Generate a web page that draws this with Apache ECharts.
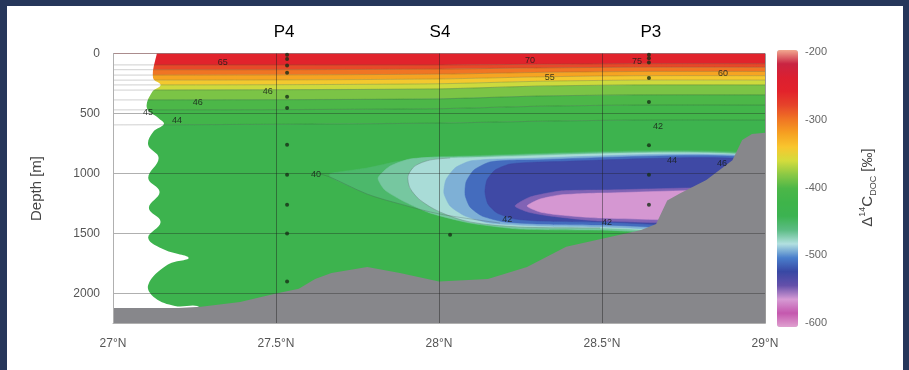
<!DOCTYPE html>
<html><head><meta charset="utf-8">
<script src="https://cdn.jsdelivr.net/npm/echarts@6/dist/echarts.min.js"></script>
<style>
html,body{margin:0;padding:0;background:#26365a;width:909px;height:370px;overflow:hidden}
#c{position:absolute;left:7px;top:6px;width:896px;height:364px;background:#fff}
</style></head><body><div id="c"></div>
<script>
// ---------------- data ----------------
const xTickLabels = ['27°N', '27.5°N', '28°N', '28.5°N', '29°N'];
const depthTicks = [0, 500, 1000, 1500, 2000];
const colorbarTicks = [-600, -500, -400, -300, -200];
// colour scale, -600 .. -200 every 20 ‰
const colormap = ['#e0a0d0','#c458ae','#d69ad4','#6450aa','#3848a4','#4a7fcc','#b2e0e0','#5cbc84','#3cb351','#3eb44a',
  '#4cb748','#8ac845','#d4dc3c','#f8c62e','#f6a021','#f07524','#e6442a','#e2232b','#dc1f30','#c92442','#f2a890'];

// isolines of the upper layers: depth (m) at these latitudes
const isoLats = [27.0, 27.5, 28.0, 28.3, 28.6, 29.0];
const isoline1 = [95, 95, 95, 90, 85, 85];
const isoline2 = [135, 135, 130, 120, 115, 115];
const isoline3 = [180, 178, 172, 158, 150, 150];
const isoline4 = [222, 220, 212, 195, 185, 185];
const isoline5 = [262, 260, 252, 232, 222, 222];
const isoline6 = [305, 302, 295, 272, 262, 262];
const isoline7 = [387, 385, 378, 355, 345, 345];
const isoline8 = [470, 468, 460, 440, 430, 430];
const isoline9 = [595, 590, 580, 565, 555, 555];
const layerValues = [-258, -282, -300, -322, -342, -362, -385, -400, -415, -432];

// low-Δ14C lens: nested contours [lat, depth]
const lensA = [[27.666,1000],[27.779,954],[27.88,896],[28.003,858],[29.015,855],[29.015,1488],[28.494,1471],[28.187,1413],[28.003,1338],[27.88,1254],[27.779,1171],[27.666,1030]];
const lensB = [[28.003,863],[27.911,879],[27.85,938],[27.813,1038],[27.834,1138],[27.896,1238],[27.972,1329],[28.095,1413],[28.248,1463],[28.494,1471],[29.015,1471],[29.015,863]];
const lensC = [[28.034,871],[27.972,888],[27.926,938],[27.905,1021],[27.911,1121],[27.942,1221],[28.003,1321],[28.095,1404],[28.248,1446],[28.494,1454],[29.015,1454],[29.015,871]];
const lensD = [[28.187,879],[28.095,896],[28.049,954],[28.021,1054],[28.015,1163],[28.034,1271],[28.08,1354],[28.156,1413],[28.31,1438],[28.494,1446],[29.015,1446],[29.015,879]];
const lensE = [[28.248,888],[28.156,904],[28.107,971],[28.083,1071],[28.08,1179],[28.095,1279],[28.132,1354],[28.202,1404],[28.31,1421],[28.494,1429],[29.015,1429],[29.015,888]];
const lensF = [[28.31,904],[28.218,921],[28.172,971],[28.147,1054],[28.141,1154],[28.15,1254],[28.178,1329],[28.233,1379],[28.31,1396],[28.494,1404],[29.015,1413],[29.015,904]];
const lensG = [[28.233,1271],[28.279,1196],[28.371,1146],[28.494,1138],[29.015,1138],[29.015,1396],[28.494,1396],[28.34,1354],[28.273,1321]];
const lensH = [[28.27,1271],[28.31,1213],[28.371,1179],[28.494,1163],[29.015,1154],[29.015,1379],[28.494,1371],[28.371,1346],[28.31,1321]];
const lensValues = [-450, -466, -478, -490, -507, -523, -545, -561];

// western edge of the data coverage [lat, depth]
const coverageEdge = [[27.123,-100],[27.123,204],[27.146,262],[27.12,320],[27.104,455],[27.14,540],[27.156,588],[27.123,654],
  [27.108,762],[27.14,870],[27.108,1038],[27.143,1154],[27.11,1288],[27.146,1404],[27.108,1538],[27.16,1638],[27.232,1704],
  [27.166,1763],[27.108,1929],[27.129,2038],[27.19,2104],[27.27,2125],[27.3,2400]];

// seafloor
const bathyLat = [27.0, 27.2, 27.27, 27.39, 27.5, 27.57, 27.62, 27.67, 27.78, 27.88, 28.0, 28.15, 28.27, 28.39, 28.49, 28.62, 28.666, 28.70, 28.74, 28.82, 28.90, 28.93, 28.96, 29.0];
const bathyDepth = [2120, 2120, 2110, 2070, 2000, 1960, 1880, 1830, 1780, 1830, 1900, 1880, 1780, 1610, 1550, 1470, 1420, 1225, 1165, 1055, 890, 720, 670, 660];

// stations and samples
const stationNames = ['P4', 'S4', 'P3'];
const stationNameLat = [27.525, 28.003, 28.65];
const p4Lat = 27.534, p4Depths = [10, 45, 100, 160, 360, 455, 760, 1010, 1260, 1500, 1900];
const s4Lat = 28.034, s4Depths = [1510];
const p3Lat = 28.644, p3Depths = [10, 40, 75, 205, 405, 765, 1010, 1260];

// contour labels
const contourLabelText = ['65','46','46','45','44','40','42','70','55','75','60','42','44','46','42'];
const contourLabelLat = [27.337, 27.475, 27.26, 27.107, 27.196, 27.623, 28.209, 28.279, 28.34, 28.607, 28.871, 28.672, 28.715, 28.868, 28.515];
const contourLabelDepth = [71, 320, 405, 490, 555, 1005, 1385, 62, 198, 70, 163, 605, 890, 915, 1410];

// ---------------- build ----------------
const isolines = [isoline1, isoline2, isoline3, isoline4, isoline5, isoline6, isoline7, isoline8, isoline9];
const bounds = [isoLats.map(() => -50)].concat(isolines, [isoLats.map(() => 2400)]);
const fieldPolys = [], fieldSmooth = [], fieldData = [];
for (let i = 0; i < layerValues.length; i++) {
  const up = isoLats.map((la, k) => [la, bounds[i][k]]);
  const lo = isoLats.map((la, k) => [la, bounds[i + 1][k]]).reverse();
  fieldPolys.push(up.concat(lo)); fieldSmooth.push(0);
  fieldData.push([fieldPolys.length - 1, layerValues[i]]);
}
[lensA, lensB, lensC, lensD, lensE, lensF, lensG, lensH].forEach((p, i) => {
  fieldPolys.push(p); fieldSmooth.push(0.2);
  fieldData.push([fieldPolys.length - 1, lensValues[i]]);
});
const maskPoly = [[26.8, -100]].concat(coverageEdge, [[26.8, 2400]]);
const floorPoly = [[26.8, bathyDepth[0]]].concat(bathyLat.map((la, i) => [la, bathyDepth[i]]), [[29.2, bathyDepth[bathyDepth.length - 1]], [29.2, 2400], [26.8, 2400]]);
const outlineLines = isolines.map(d => [[26.95, d[0]]].concat(isoLats.map((la, k) => [la, d[k]])));
const lensOutline = [[27.635, 1004]].concat(lensA.slice(7).reverse());
outlineLines.push(lensOutline, lensC.slice(0, 10));
const samples = [];
p4Depths.forEach(d => samples.push([p4Lat, d]));
s4Depths.forEach(d => samples.push([s4Lat, d]));
p3Depths.forEach(d => samples.push([p3Lat, d]));
const FONT = "'Liberation Sans', Arial, sans-serif";

const chart = echarts.init(document.getElementById('c'), null, {renderer: 'canvas'});
const option = {
  animation: false,
  backgroundColor: '#ffffff',
  grid: [{left: 106, top: 47.5, width: 652, height: 270}, {left: 770, top: 46, width: 21, height: 271}],
  xAxis: [
    {gridIndex: 0, type: 'value', min: 27, max: 29, interval: 0.5, z: 6,
     axisLine: {show: true, onZero: false, lineStyle: {color: '#b0b0b0'}}, axisTick: {show: false},
     axisLabel: {color: '#555', fontSize: 12, fontFamily: FONT, margin: 14, formatter: v => xTickLabels[Math.round((v - 27) / 0.5)]},
     splitLine: {show: true, lineStyle: {color: 'rgba(30,30,30,0.45)', width: 1}}},
    {gridIndex: 1, type: 'value', min: 0, max: 1, show: false}
  ],
  yAxis: [
    {gridIndex: 0, type: 'value', inverse: true, min: 0, max: 2250, interval: 500, z: 6,
     name: 'Depth [m]', nameLocation: 'middle', nameGap: 69, nameTextStyle: {fontSize: 15, color: '#444', fontFamily: FONT},
     axisLine: {show: true, onZero: false, lineStyle: {color: '#b0b0b0'}}, axisTick: {show: false},
     axisLabel: {color: '#555', fontSize: 12, fontFamily: FONT, margin: 13, showMaxLabel: false,
       formatter: v => depthTicks.indexOf(v) >= 0 ? String(v) : ''},
     splitLine: {show: true, lineStyle: {color: 'rgba(30,30,30,0.35)', width: 1}}},
    {gridIndex: 1, type: 'value', min: -600, max: -200, interval: 100, position: 'right',
     axisLine: {show: false}, axisTick: {show: false}, splitLine: {show: false},
     axisLabel: {color: '#666', fontSize: 11, fontFamily: FONT, margin: 7, formatter: v => colorbarTicks.indexOf(v) >= 0 ? String(v) : ''},
     name: '{m|Δ}{sup|14}{m|C}{sub|DOC}{m| [‰]}', nameLocation: 'middle', nameRotate: 90, nameGap: 60,
     nameTextStyle: {color: '#444', fontFamily: FONT, rich: {
       m: {fontSize: 15, color: '#444', fontFamily: FONT, lineHeight: 20},
       sup: {fontSize: 9, color: '#444', fontFamily: FONT, verticalAlign: 'top'},
       sub: {fontSize: 9, color: '#444', fontFamily: FONT, verticalAlign: 'bottom'}}}}
  ],
  visualMap: {type: 'continuous', seriesIndex: 0, dimension: 1, min: -600, max: -200,
    left: 770, top: 44, itemWidth: 21, itemHeight: 277, padding: 0, calculable: false, hoverLink: false,
    inRange: {color: colormap}, textStyle: {color: 'transparent'}},
  series: [
    {type: 'custom', name: 'field', xAxisIndex: 0, yAxisIndex: 0, clip: true, z: 2, silent: true,
     dimensions: ['poly', 'value'], encode: {x: -1, y: -1},
     data: fieldData,
     renderItem: (params, api) => {
       const i = api.value(0);
       return {type: 'polygon', shape: {points: fieldPolys[i].map(p => api.coord(p)), smooth: fieldSmooth[i]},
               style: {fill: api.visual('color'), stroke: api.visual('color'), lineWidth: 0.5}};
     }},
    {type: 'custom', name: 'mask', clip: true, z: 3, silent: true, data: [[0]], encode: {x: -1, y: -1},
     renderItem: (params, api) => ({type: 'polygon', shape: {points: maskPoly.map(p => api.coord(p)), smooth: 0.4},
       style: {fill: '#ffffff'}})},
    {type: 'custom', name: 'contours', clip: true, z: 4, silent: true, encode: {x: -1, y: -1},
     data: outlineLines.map((l, i) => [i]),
     renderItem: (params, api) => ({type: 'polyline', shape: {points: outlineLines[api.value(0)].map(p => api.coord(p)), smooth: 0.3},
       style: {stroke: 'rgba(60,60,60,0.3)', lineWidth: 0.8, fill: null}})},
    {type: 'custom', name: 'seafloor', clip: true, z: 5, silent: true, data: [[0]], encode: {x: -1, y: -1},
     renderItem: (params, api) => ({type: 'polygon', shape: {points: floorPoly.map(p => api.coord(p))},
       style: {fill: '#87878b'}})},
    {type: 'scatter', name: 'samples', z: 8, symbol: 'circle', symbolSize: 4, silent: true,
     itemStyle: {color: '#173017'}, data: samples},
    {type: 'custom', name: 'contour labels', clip: false, z: 8, silent: true, encode: {x: -1, y: -1},
     data: contourLabelText.map((t, i) => [i]),
     renderItem: (params, api) => {
       const i = api.value(0);
       const p = api.coord([contourLabelLat[i], contourLabelDepth[i]]);
       return {type: 'text', x: p[0], y: p[1], style: {text: contourLabelText[i], fill: 'rgba(25,30,25,0.85)',
         fontSize: 9, fontFamily: FONT, align: 'center', verticalAlign: 'middle'}};
     }},
    {type: 'custom', name: 'stations', clip: false, z: 8, silent: true, encode: {x: -1, y: -1},
     data: stationNames.map((t, i) => [i]),
     renderItem: (params, api) => {
       const i = api.value(0);
       const p = api.coord([stationNameLat[i], -175]);
       return {type: 'text', x: p[0], y: p[1], style: {text: stationNames[i], fill: '#000',
         fontSize: 17, fontFamily: FONT, align: 'center', verticalAlign: 'middle'}};
     }}
  ]
};
chart.setOption(option);
</script></body></html>
